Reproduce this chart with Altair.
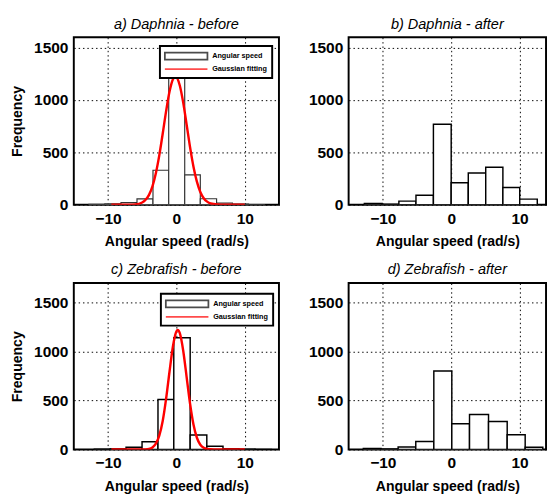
import altair as alt
import pandas as pd

# ---------------- data ----------------
titles = ["a) Daphnia - before", "b) Daphnia - after", "c) Zebrafish - before", "d) Zebrafish - after"]
legend_labels = ["Angular speed", "Gaussian fitting"]

a_edges = [-12.8, -10.45, -8.1, -5.76, -3.42, -1.12, 1.22, 3.5, 5.88, 8.2, 10.55, 12.9]
a_counts = [3, 8, 19, 55, 329, 1217, 285, 57, 15, 5, 2]

b_edges = [-12.7, -10.1, -7.65, -5.15, -2.6, 0.0, 2.5, 5.05, 7.56, 10.02, 12.59]
b_counts = [12, 5, 34, 90, 768, 210, 303, 358, 165, 53]

c_edges = [-12.0, -9.67, -7.36, -5.02, -2.69, -0.38, 2.02, 4.45, 6.82, 9.15, 11.5, 13.9]
c_counts = [2, 5, 23, 79, 511, 1142, 148, 33, 8, 3, 1]

d_edges = [-12.85, -10.26, -7.76, -5.18, -2.54, 0.09, 2.68, 5.46, 8.19, 10.82, 13.4]
d_counts = [10, 6, 26, 82, 801, 263, 358, 286, 151, 23]

a_fit_x = [-9.5, -7, -6, -5, -4.5, -4, -3.5, -3, -2.5, -2, -1.5, -1, -0.5, -0.15,
           0.5, 1, 1.5, 2, 2.5, 3, 3.5, 4, 4.5, 5, 6, 7, 10]
a_fit_y = [0, 0.4, 3, 21, 47, 94, 176, 301, 471, 678, 894, 1081, 1199, 1225,
           1139, 975, 765, 550, 363, 220, 122, 62, 29, 12, 2, 0, 0]

c_fit_x = [-9.5, -5, -4, -3.5, -3, -2.5, -2, -1.5, -1, -0.5, 0, 0.2,
           0.5, 1, 1.5, 2, 2.5, 3, 3.5, 4, 4.5, 5.5, 10]
c_fit_y = [0, 0.4, 7, 21, 59, 141, 291, 519, 797, 1055, 1206, 1220,
           1188, 1009, 740, 468, 255, 120, 49, 17, 5, 0, 0]

x_ticks = [-10, 0, 10]
y_ticks = [0, 500, 1000, 1500]

FONT = "Liberation Sans"
RECT_PATH = "M-1.2,-0.78L8.58,-0.78L8.58,0.78L-1.2,0.78Z"
LINE_PATH = "M-1.2,0L8.58,0"


def bars_frame(edges, counts):
    return pd.DataFrame({"x0": edges[:-1], "x1": edges[1:], "count": counts,
                         "base": [0] * len(counts)})


def panel(title, edges, counts, ymax, width, height, xmax, ytitle,
          fit_x=None, fit_y=None, bar_stroke=1.5, bar_color="black", leg_xy=None):
    xs = alt.Scale(domain=[-15, xmax], nice=False, zero=False)
    ys = alt.Scale(domain=[0, ymax], nice=False, zero=False)
    xaxis = alt.Axis(title="Angular speed (rad/s)", values=x_ticks, grid=True,
                     labelFlush=False, format="d")
    yaxis = alt.Axis(title=ytitle, values=y_ticks, grid=True, labelFlush=False,
                     format="d")
    bars = alt.Chart(bars_frame(edges, counts)).mark_rect(
        fill="white", stroke=bar_color, strokeWidth=bar_stroke, clip=True
    ).encode(
        x=alt.X("x0:Q", scale=xs, axis=xaxis),
        x2="x1:Q",
        y=alt.Y("count:Q", scale=ys, axis=yaxis),
        y2="base:Q",
    )
    layers = [bars]
    if fit_x is not None:
        fit = alt.Chart(pd.DataFrame({"x": fit_x, "y": fit_y})).mark_line(
            color="red", strokeWidth=2.5, interpolate="monotone", clip=True
        ).encode(x=alt.X("x:Q", scale=xs), y=alt.Y("y:Q", scale=ys))
        layers.append(fit)
        leg = alt.Legend(
            title=None, orient="none", legendX=leg_xy[0], legendY=leg_xy[1],
            padding=5, fillColor="white", strokeColor="black",
            labelFont=FONT, labelFontSize=7.5, labelFontWeight="bold",
            labelColor="black", labelOffset=38, symbolSize=81,
            symbolStrokeWidth=1.8, labelLimit=200,
        )
        key = alt.Chart(pd.DataFrame({"series": legend_labels, "x": [0, 0], "y": [0, 0]})).mark_point(
            filled=False
        ).encode(
            x=alt.X("x:Q", scale=xs),
            y=alt.Y("y:Q", scale=ys),
            stroke=alt.Stroke("series:N", scale=alt.Scale(domain=legend_labels, range=["black", "red"]), legend=leg),
            shape=alt.Shape("series:N", scale=alt.Scale(domain=legend_labels, range=[RECT_PATH, LINE_PATH]), legend=leg),
        ).transform_filter("datum.x > 100")
        layers.append(key)
    return alt.layer(*layers).properties(
        width=width, height=height,
        title=alt.Title(title, font=FONT, fontSize=15, fontStyle="italic",
                        fontWeight="normal", color="black", offset=6),
    )


pa = panel(titles[0], a_edges, a_counts, 1600, 212, 173, 15, "Frequency",
           a_fit_x, a_fit_y, bar_stroke=1.2, bar_color="#333333", leg_xy=(89, 9))
pb = panel(titles[1], b_edges, b_counts, 1600, 204, 173, 13.87, None)
pc = panel(titles[2], c_edges, c_counts, 1700, 212, 172, 15, "Frequency",
           c_fit_x, c_fit_y, leg_xy=(90, 11))
pd_ = panel(titles[3], d_edges, d_counts, 1700, 204, 172, 13.87, None)


def indep(ch):
    return ch.resolve_scale(stroke="independent", shape="independent").resolve_legend(
        stroke="independent", shape="independent")


chart = indep(alt.vconcat(
    indep(alt.hconcat(pa, pb, spacing=28)),
    indep(alt.hconcat(pc, pd_, spacing=28)),
    spacing=13,
)).properties(
    padding={"left": 1, "top": 0, "right": 0, "bottom": 0}
).configure_view(
    stroke="black", strokeWidth=2
).configure_axis(
    labelFont=FONT, labelFontSize=16, labelFontWeight="bold", labelColor="black",
    titleFont=FONT, titleFontSize=14.5, titleFontWeight="bold", titleColor="black",
    ticks=False, domain=False, labelPadding=6, titlePadding=9,
    gridColor="black", gridDash=[1.5, 3], gridWidth=1, gridOpacity=1,
).configure_legend(
    strokeWidth=2, rowPadding=0.5
)

chart.save("out.html", embed_options={"renderer": "svg", "actions": False})
